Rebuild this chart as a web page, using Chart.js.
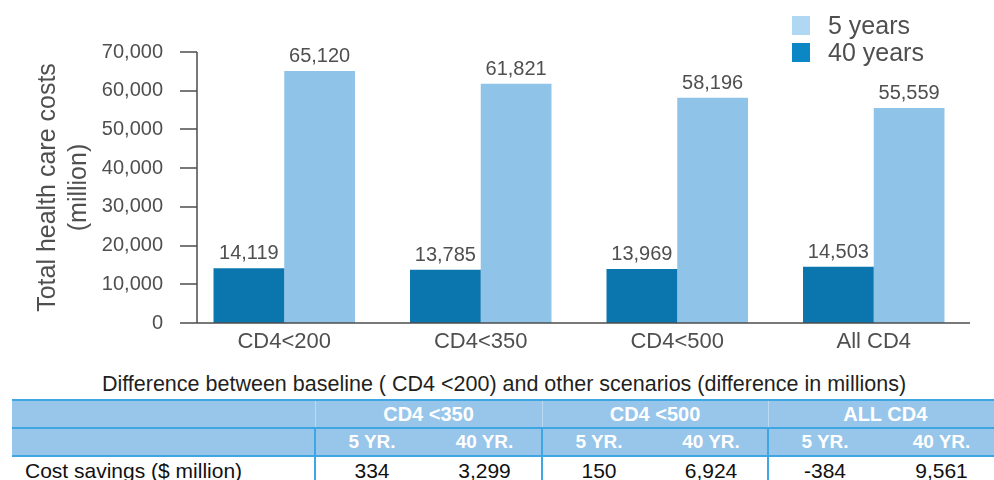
<!DOCTYPE html>
<html>
<head>
<meta charset="utf-8">
<script src="https://cdn.jsdelivr.net/npm/chart.js@4.4.0/dist/chart.umd.min.js"></script>
<style>
  html, body { margin: 0; padding: 0; background: #fff; }
  body { width: 994px; height: 480px; position: relative; overflow: hidden;
         font-family: "Liberation Sans", Arial, Helvetica, sans-serif; }
  #chartBox { position: absolute; left: 0; top: 0; width: 994px; height: 360px; }
  #legend { position: absolute; left: 792px; top: 16px; color: #4f4f51; font-size: 25px; }
  #legend .item { display: flex; align-items: center; height: 19px; margin-bottom: 8px; }
  #legend .box { width: 18px; height: 19px; margin-right: 18px; }
  #tblTitle { position: absolute; left: 0; width: 1008px; top: 373px; text-align: center;
              font-size: 21.5px; line-height: 22px; color: #231f20; }
  table { position: absolute; left: 12px; top: 399px; width: 990px; border-collapse: collapse;
          table-layout: fixed; }
  th { background: #98c5ea; color: #fff; font-weight: bold; font-size: 19px; height: 26px;
       padding: 0; text-align: center; border-top: 2px solid #3ea6e2; }
  tr.r1 th { font-size: 20px; }
  tr.r1 th.g { border-left: 1px solid rgba(255,255,255,0.35); }
  tr.r2 th.g { border-left: 2px solid #3ea6e2; }
  td { font-size: 21px; color: #111; text-align: center; padding: 0; height: 30px;
       border-top: 2px solid #3ea6e2; vertical-align: top; padding-top: 2px; }
  td.g { border-left: 2px solid #3ea6e2; }
  td.lbl { text-align: left; padding-left: 13px; }
</style>
</head>
<body>
<div id="chartBox"><canvas id="costChart"></canvas></div>
<div id="legend"></div>
<div id="tblTitle"></div>
<table id="diffTable"></table>

<script>
// ─── DATA ────────────────────────────────────────────────
const scenarios   = ['CD4<200', 'CD4<350', 'CD4<500', 'All CD4'];
const costs40yr   = [14119, 13785, 13969, 14503];
const costs5yr    = [65120, 61821, 58196, 55559];
const yTicks      = [0, 10000, 20000, 30000, 40000, 50000, 60000, 70000];

const tableTitle  = 'Difference between baseline ( CD4 <200) and other scenarios (difference in millions)';
const tableGroups = ['CD4 <350', 'CD4 <500', 'ALL CD4'];
const tableSubs   = ['5 YR.', '40 YR.'];
const rowLabel    = 'Cost savings ($ million)';
const savings     = ['334', '3,299', '150', '6,924', '-384', '9,561'];

// ─── COLOURS ─────────────────────────────────────────────
const DARK  = '#0b76ae';
const LIGHT = '#8fc4e8';
const TEXT  = '#4f4f51';
const FONT  = "'Liberation Sans', Arial, Helvetica, sans-serif";

// ─── PLUGINS ─────────────────────────────────────────────
// axis line sits a little right of where the first category starts
const axisLines = {
  id: 'axisLines',
  afterDatasetsDraw(chart) {
    const { ctx, chartArea, scales: { y } } = chart;
    const ax = chartArea.left + 11;
    ctx.save();
    ctx.strokeStyle = '#4d4d4f';
    ctx.lineWidth = 1.5;
    ctx.beginPath();
    y.ticks.forEach(t => {
      const py = Math.round(y.getPixelForValue(t.value));
      ctx.moveTo(ax - 17, py);
      ctx.lineTo(ax, py);
    });
    ctx.moveTo(ax, y.getPixelForValue(yTicks[yTicks.length - 1]));
    ctx.lineTo(ax, y.bottom);
    ctx.moveTo(ax - 17, Math.round(y.bottom));
    ctx.lineTo(chartArea.right - 2, Math.round(y.bottom));
    ctx.stroke();
    ctx.restore();
  }
};

const valueLabels = {
  id: 'valueLabels',
  afterDatasetsDraw(chart) {
    const { ctx } = chart;
    ctx.save();
    ctx.font = '20px ' + FONT;
    ctx.fillStyle = TEXT;
    ctx.textAlign = 'center';
    ctx.textBaseline = 'alphabetic';
    chart.data.datasets.forEach((ds, i) => {
      chart.getDatasetMeta(i).data.forEach((bar, j) => {
        ctx.fillText(ds.data[j].toLocaleString('en-US'), bar.x, bar.y - 9);
      });
    });
    ctx.restore();
  }
};

// ─── CHART ───────────────────────────────────────────────
const chart = new Chart(document.getElementById('costChart'), {
  type: 'bar',
  data: {
    labels: scenarios,
    datasets: [
      { label: '40 years', data: costs40yr, backgroundColor: DARK, legendColor: '#0a87c4' },
      { label: '5 years',  data: costs5yr,  backgroundColor: LIGHT, legendColor: '#b1d8f2' }
    ]
  },
  options: {
    responsive: true,
    maintainAspectRatio: false,
    animation: false,
    layout: { padding: { top: 52, right: 22, left: 0, bottom: 0 } },
    datasets: { bar: { categoryPercentage: 0.72, barPercentage: 1, borderWidth: 0 } },
    plugins: { legend: { display: false }, tooltip: { enabled: false } },
    scales: {
      x: {
        grid: { display: false, drawTicks: false },
        border: { display: false },
        ticks: { color: TEXT, font: { family: FONT, size: 22 }, padding: 6 },
        afterFit: s => { s.height = 37; }
      },
      y: {
        min: 0,
        max: 70000,
        afterBuildTicks: s => { s.ticks = yTicks.map(v => ({ value: v })); },
        grid: { display: false, drawTicks: false },
        border: { display: false },
        ticks: {
          color: TEXT,
          font: { family: FONT, size: 20 },
          padding: 23,
          callback: v => v.toLocaleString('en-US')
        },
        title: {
          display: true,
          text: ['Total health care costs', '(million)'],
          color: TEXT,
          font: { family: FONT, size: 25, lineHeight: 1.25 },
          padding: { top: 32, bottom: 0 }
        },
        afterFit: s => { s.width = 186; }
      }
    }
  },
  plugins: [axisLines, valueLabels]
});

// ─── LEGEND (5 years listed first) ───────────────────────
const legend = document.getElementById('legend');
chart.data.datasets.slice().reverse().forEach(ds => {
  const item = document.createElement('div');
  item.className = 'item';
  item.innerHTML = `<span class="box" style="background:${ds.legendColor}"></span><span>${ds.label}</span>`;
  legend.appendChild(item);
});

// ─── TABLE ───────────────────────────────────────────────
document.getElementById('tblTitle').textContent = tableTitle;
const colWidths = [303, 113, 114, 113, 113, 113, 121];
let html = '<colgroup>' + colWidths.map(w => `<col style="width:${w}px">`).join('') + '</colgroup>';
html += '<tr class="r1"><th></th>' +
  tableGroups.map(g => `<th class="g" colspan="2">${g}</th>`).join('') + '</tr>';
html += '<tr class="r2"><th></th>' +
  tableGroups.map(() => tableSubs.map((s, k) => `<th${k === 0 ? ' class="g"' : ''}>${s}</th>`).join('')).join('') + '</tr>';
html += `<tr><td class="lbl">${rowLabel}</td>` +
  savings.map((v, k) => `<td${k % 2 === 0 ? ' class="g"' : ''}>${v}</td>`).join('') + '</tr>';
document.getElementById('diffTable').innerHTML = html;
</script>
</body>
</html>
